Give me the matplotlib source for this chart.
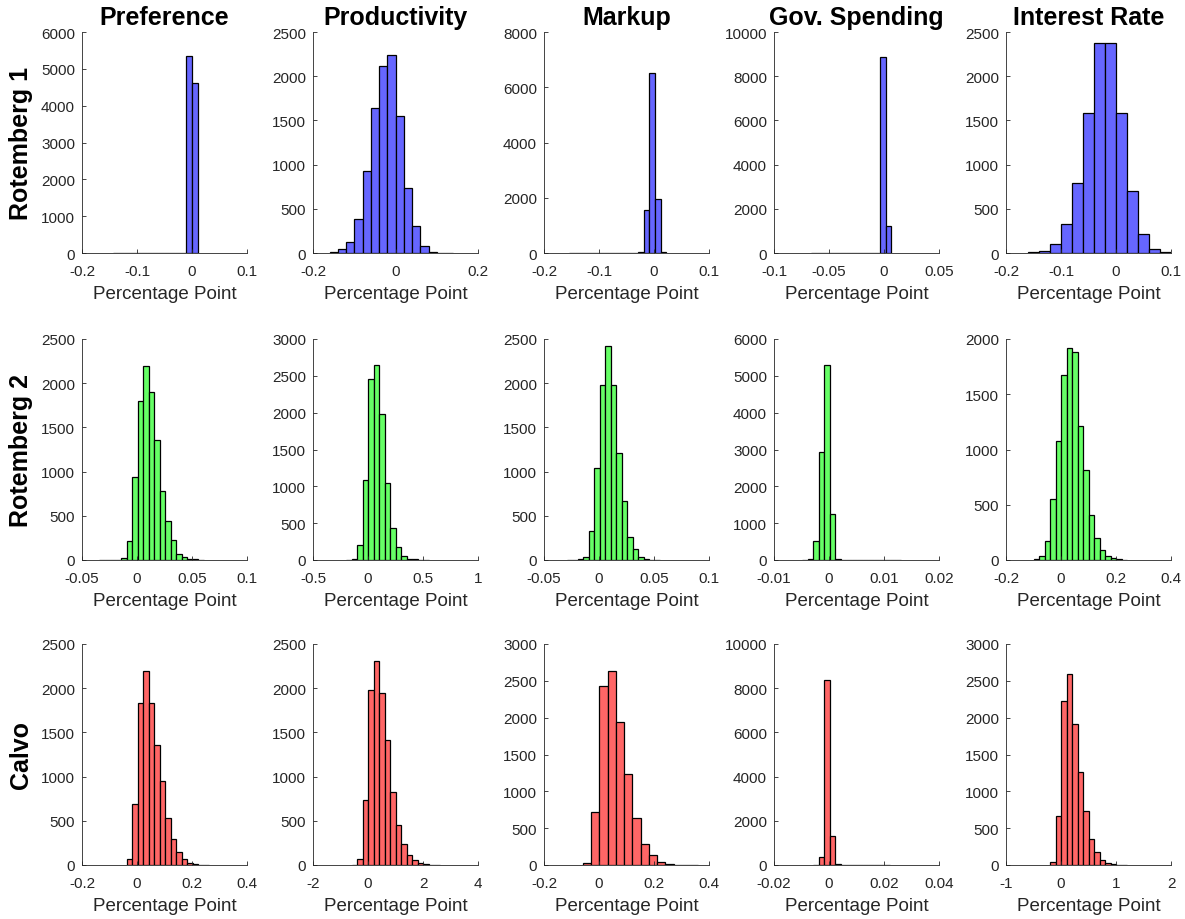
import numpy as np
import matplotlib
matplotlib.use("Agg")
import matplotlib.pyplot as plt

plt.rcParams['font.family'] = ['Liberation Sans', 'DejaVu Sans']

# names of the shocks and models
shocks = ["Preference", "Productivity", "Markup", "Gov. Spending", "Interest Rate"]
models = ["Rotemberg 1", "Rotemberg 2", "Calvo"]

# histogram data: first bin edge, bin width, counts
r1_start = [-0.1443, -0.16, -0.1541, -0.0661, -0.16]
r1_width = [0.0103, 0.02, 0.0104, 0.0052, 0.02]
r1_counts = [
    [1, 1, 1, 2, 2, 2, 2, 3, 3, 3, 4, 5, 9, 5350, 4620],
    [15, 45, 130, 385, 930, 1640, 2115, 2235, 1550, 730, 310, 80, 8, 3, 2],
    [1, 1, 1, 1, 2, 2, 2, 3, 3, 4, 5, 8, 50, 1550, 6530, 1940, 20],
    [1, 1, 1, 1, 1, 2, 2, 2, 3, 3, 4, 6, 8850, 1210],
    [10, 25, 100, 330, 795, 1585, 2370, 2380, 1580, 705, 210, 40, 12],
]

r2_start = [-0.0345, -0.2, -0.0295, -0.0049, -0.1]
r2_width = [0.005, 0.05, 0.005, 0.001, 0.02]
r2_counts = [
    [2, 3, 5, 5, 25, 210, 942, 1800, 2190, 1903, 1356, 775, 445, 228, 68, 30, 12, 6, 3],
    [3, 20, 210, 1085, 2462, 2645, 1984, 1040, 438, 173, 55, 20, 10, 5, 3],
    [2, 4, 10, 35, 330, 1045, 1980, 2425, 1975, 1205, 672, 262, 130, 35, 12, 5, 2],
    [3, 30, 510, 2935, 5305, 1240, 25, 5, 4, 4, 3, 3, 3, 2, 2, 2, 2, 1],
    [5, 38, 170, 550, 1073, 1670, 1915, 1878, 1213, 815, 410, 200, 95, 40, 18, 6, 3],
]

r3_start = [-0.038, -0.6, -0.059, -0.0058, -0.2]
r3_width = [0.02, 0.2, 0.03, 0.002, 0.1]
r3_counts = [
    [70, 685, 1830, 2197, 1830, 1352, 947, 530, 295, 148, 68, 23, 10, 3, 2],
    [5, 68, 735, 1985, 2307, 1943, 1409, 826, 447, 242, 114, 60, 23, 8, 4, 2],
    [27, 722, 2427, 2632, 1945, 1241, 636, 291, 132, 36, 12, 5, 3, 2],
    [20, 365, 8380, 1300, 25, 6, 5, 4, 4, 3, 3, 2, 2, 1],
    [36, 668, 2232, 2591, 1918, 1268, 736, 359, 182, 73, 27, 14, 5, 3],
]

# axis ranges and ticks
xticks = [
    [[-0.2, -0.1, 0, 0.1], [-0.2, 0, 0.2], [-0.2, -0.1, 0, 0.1], [-0.1, -0.05, 0, 0.05], [-0.2, -0.1, 0, 0.1]],
    [[-0.05, 0, 0.05, 0.1], [-0.5, 0, 0.5, 1], [-0.05, 0, 0.05, 0.1], [-0.01, 0, 0.01, 0.02], [-0.2, 0, 0.2, 0.4]],
    [[-0.2, 0, 0.2, 0.4], [-2, 0, 2, 4], [-0.2, 0, 0.2, 0.4], [-0.02, 0, 0.02, 0.04], [-1, 0, 1, 2]],
]
ymax = [[6000, 2500, 8000, 10000, 2500],
        [2500, 3000, 2500, 6000, 2000],
        [2500, 2500, 3000, 10000, 3000]]
ystep = [[1000, 500, 2000, 2000, 500],
         [500, 500, 500, 1000, 500],
         [500, 500, 500, 2000, 500]]

colors = ["#6666ff", "#66ff66", "#ff6666"]
starts = [r1_start, r2_start, r3_start]
widths = [r1_width, r2_width, r3_width]
counts = [r1_counts, r2_counts, r3_counts]

fig = plt.figure(figsize=(11.85, 9.2), dpi=100)
W, H = 1185, 920
lefts = [82, 313, 544, 774, 1006]
tops = [33, 340, 645]
aw, ah = 165, 221
axcol = "#262626"

for i in range(3):
    for j in range(5):
        ax = fig.add_axes([lefts[j] / W, 1 - (tops[i] + ah) / H, aw / W, ah / H])
        c = np.array(counts[i][j])
        edges = starts[i][j] + widths[i][j] * np.arange(len(c))
        ax.bar(edges, c, width=widths[i][j], align='edge', color=colors[i],
               edgecolor='black', linewidth=0.9)
        xt = xticks[i][j]
        ax.set_xlim(xt[0], xt[-1])
        ax.set_ylim(0, ymax[i][j])
        ax.set_xticks(xt)
        ax.set_xticklabels(["%g" % v for v in xt])
        yt = np.arange(0, ymax[i][j] + 1, ystep[i][j])
        ax.set_yticks(yt)
        ax.set_yticklabels(["%d" % v for v in yt])
        for s in ["top", "right"]:
            ax.spines[s].set_visible(False)
        for s in ["left", "bottom"]:
            ax.spines[s].set_color(axcol)
            ax.spines[s].set_linewidth(0.6)
        ax.tick_params(direction='in', length=3, width=0.6, colors=axcol,
                       labelsize=11)
        ax.tick_params(axis='x', pad=8)
        ax.tick_params(axis='y', pad=5)
        ax.set_xlabel("Percentage Point", fontsize=13.5, color=axcol, labelpad=5)
        if i == 0:
            ax.set_title(shocks[j], fontsize=18, fontweight='bold', pad=6)
    fig.text(21 / W, 1 - (tops[i] + ah / 2) / H, models[i], rotation=90,
             ha='center', va='center', fontsize=18, fontweight='bold')

fig.savefig("out.png", dpi=100)
